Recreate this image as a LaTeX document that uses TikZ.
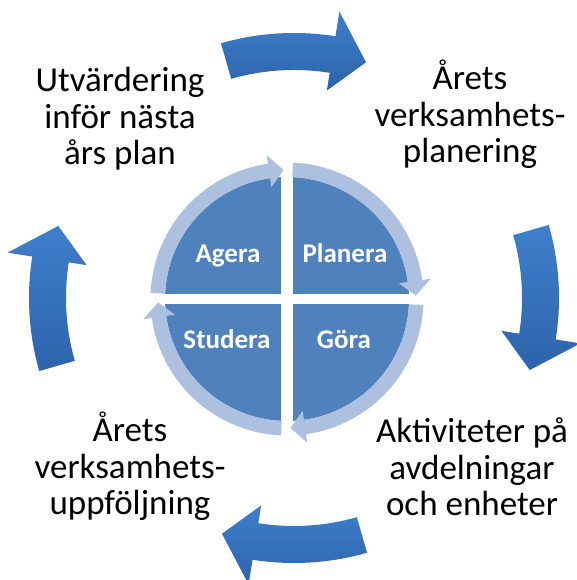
\documentclass[tikz,border=0pt]{standalone}
\usepackage{fontspec}
\setmainfont{Carlito}
\definecolor{quadblue}{HTML}{4F81BD}
\definecolor{ringblue}{HTML}{AEC0DF}
\definecolor{arrowtop}{HTML}{3F7FCC}
\definecolor{arrowbot}{HTML}{2D64AB}
\begin{document}
\begin{tikzpicture}[x=1pt, y=1pt,
    phase/.style={align=center, inner sep=0, anchor=base, font=\fontsize{35}{36.5}\selectfont},
    quad/.style={text=white, inner sep=0, anchor=base, font=\fontsize{27}{29}\selectfont\bfseries},
    bigarrow/.style={top color=arrowtop, bottom color=arrowbot, draw=none},
    ringarrow/.style={fill=ringblue}]
            \useasboundingbox (0,0) rectangle (576,580);

            \begin{scope}[shift={(287,281)}]
                \fill[quadblue] (0,0) circle[radius=122];
                \fill[white] (-6,-125) rectangle (6,125);
                \fill[white] (-125,-5) rectangle (125,5);
                \foreach \a in {180,90,0,-90}
                    \fill[ringarrow] ({\a-2.5}:136.5) arc[start angle={\a-2.5}, end angle={\a-82}, radius=136.5]
                        -- ({\a-82}:145) -- ({\a-88.5}:129) -- ({\a-82}:113) -- ({\a-82}:122)
                        arc[start angle={\a-82}, end angle={\a-2.5}, radius=122] -- cycle;
            \end{scope}

            \begin{scope}[shift={(294,282)}]
                \foreach \a in {90,0,-90,180}
                    \shade[bigarrow] ({\a+16}:265) arc[start angle={\a+16}, end angle={\a-9}, radius=265]
                        -- ({\a-9}:290) -- ({\a-17}:246.5) -- ({\a-9}:210) -- ({\a-9}:228)
                        arc[start angle={\a-9}, end angle={\a+16}, radius=228] -- cycle;
            \end{scope}

            \node[quad] (Q1) at (228,317) {Agera};
            \node[quad] (Q2) at (345,317) {Planera};
            \node[quad] (Q3) at (344,231) {Göra};
            \node[quad] (Q4) at (227,231) {Studera};

            \node[phase] (T1) at (120,415) {Utvärdering\\inför nästa\\års plan};
            \node[phase] (T2) at (470,417) {Årets\\verksamhets-\\planering};
            \node[phase] (T3) at (472,64) {Aktiviteter på\\avdelningar\\och enheter};
            \node[phase] (T4) at (130,65) {Årets\\verksamhets-\\uppföljning};
        \end{tikzpicture}
\end{document}
